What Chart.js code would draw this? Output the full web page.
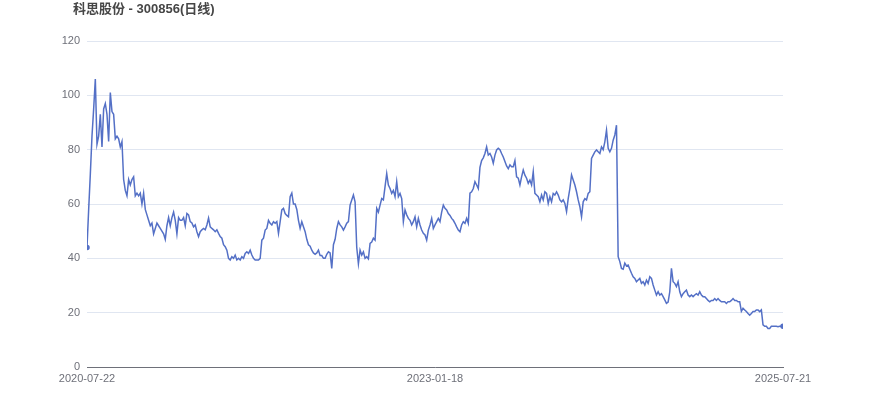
<!DOCTYPE html>
<html>
<head>
<meta charset="utf-8">
<script src="https://cdn.jsdelivr.net/npm/chart.js@4/dist/chart.umd.min.js"></script>
<style>
  html, body { margin: 0; padding: 0; background: #fff; }
  #wrap { width: 870px; height: 417px; position: relative; }
</style>
</head>
<body>
<div id="wrap"><canvas id="priceChart"></canvas></div>
<script>
const chartTitle = '科思股份 - 300856(日线)';
const tickLabels = ['2020-07-22', '2023-01-18', '2025-07-21'];
const yRange = [0, 120];
const yStep = 20;

// closing prices, roughly every third trading day
const closePrices = [
  44, 58, 71, 85, 95, 106, 82, 85, 93, 81, 95, 97, 93, 83, 101, 94, 93, 84, 85, 84,
  81, 83, 69, 65, 63, 69, 67, 69, 70, 63, 64, 63, 64, 60, 64, 58, 56, 54, 52, 53,
  49, 51, 53, 52, 51, 50, 49, 47, 52, 55, 52,
  55, 57, 54, 49, 55, 54, 54, 55, 52, 56.5, 56, 53.5, 53, 51.6, 52.3, 49.8, 48, 49.8, 50.5, 51,
  50.5, 52.3, 54.8, 51.6, 51, 50.5, 49.8, 50.5, 49.2, 48, 47.4, 45, 44.3, 43, 40, 39.4, 40.6, 40, 41.2, 39.4,
  40, 39.4, 40.6, 40, 41.8, 42.4, 41.8, 43, 41.2, 40, 39.4, 39.4, 39.4, 40,
  46.7, 47.4, 50.4, 51, 54, 52.9, 52.3, 53.5, 52.9, 53.5, 49.2, 53.5, 57.8, 58.4, 56.5, 55.8, 55.3, 62.7, 64, 60,
  60, 58, 54, 51, 53.5, 51.6, 49.8, 47, 45, 44.5, 43, 42, 41.5, 42, 43, 41, 41, 40, 40, 41.5,
  42.4, 42, 36.3, 45, 47, 51, 53.5, 52.3, 51.6, 50.4, 51.6,
  52.9, 53.5, 59.6, 61.5, 63.3, 60.8, 44, 38, 43, 41.2, 42.4, 40, 40.6, 39.8, 45.5, 46, 47.4, 46.7, 58.4, 57,
  59.6, 62, 61.5, 66.4, 71.2, 67, 65.7, 63.9, 65, 62.7, 68.2, 62.7, 63.9, 62, 53.5, 57.8, 56, 54.7, 54, 52.3,
  53.5, 55.3, 51.6, 54.7, 52.3, 50.4, 49.2, 48.6, 46.7, 50.4, 52.3,
  54.7, 51, 52.3, 53.5, 54.7, 53.5, 57, 59.6, 58.4, 57.8, 56.5, 55.8, 54.7, 54, 52.9, 51.6, 50.4, 49.8, 52.3, 53.5,
  52.9, 54.7, 52.9, 64, 64.5, 65.7, 68.2, 67, 65.7, 73.5, 76, 77, 78.6, 81, 78, 78.6, 77.3, 75, 78, 79.9,
  80.5, 80, 78.6, 77.3, 75.6, 74, 73, 74.4, 73.7, 73.7, 76,
  70, 69.5, 67, 70, 72.5, 70.6, 69.5, 67.6, 68.8, 67, 71.9, 63.9, 63.3, 62.7, 60.8, 63.3, 61.5, 64.5, 63.9, 60.2,
  62.7, 60.8, 63.9, 63.3, 64.5, 63.3, 61.5, 60.8, 61.5, 60.2, 57.2, 62, 65.7, 70.7, 68.8, 67, 64.5, 61.5, 59, 55.3,
  60.8, 62, 61.5, 63.9, 64.5, 76.8, 78, 79.2, 79.9, 79.2, 78.6,
  81, 80, 82.9, 87.2, 80.5, 79.2, 80.5, 83.5, 85.4, 89, 40.6, 38.8, 36.3, 36, 38.2, 37.2, 37.5, 36, 34.5, 33.2,
  32.6, 31.4, 32, 32.6, 30.8, 31.4, 30.2, 32, 30.8, 33.2, 32.6, 30.2, 28.3, 26.5, 27.7, 26.5, 27, 25.9, 24.7, 23.4,
  23.9, 27.7, 36.3, 31.4, 30.8, 29.6, 31.4,
  27.7, 25.9, 27, 27.7, 28.3, 26.5, 25.9, 26.5, 25.9, 26.5, 27, 26.5, 27.7, 26.5, 25.9, 25.9, 25.2, 24.5, 24, 24.5,
  24.5, 25.2, 24.5, 25.2, 24.5, 24, 24, 24, 23.4, 24, 24, 24.5, 25.2, 24.5, 24.5, 24, 24, 20.5, 21.6, 21,
  20.4, 19.7, 19.1, 19.7, 20.4, 20.4, 21, 21, 20.4, 21, 15.5, 15, 15, 14.2, 14.2, 15, 15, 15, 15, 14.8,
  15, 15, 15
];

const lastIdx = closePrices.length - 1;
const midIdx = Math.round(lastIdx / 2);
const tickIdx = [0, midIdx, lastIdx];

const fontFamily = '"Liberation Sans", "Noto Sans CJK SC", Arial, sans-serif';

const titlePlugin = {
  id: 'topTitle',
  afterDraw(chart) {
    const ctx = chart.ctx;
    ctx.save();
    ctx.font = 'bold 13px ' + fontFamily;
    ctx.fillStyle = '#464646';
    ctx.textBaseline = 'middle';
    ctx.textAlign = 'left';
    ctx.fillText(chartTitle, 73, 9);
    ctx.restore();
  }
};

new Chart(document.getElementById('priceChart'), {
  type: 'line',
  data: {
    datasets: [{
      data: closePrices.map((v, i) => ({ x: i, y: v })),
      borderColor: '#5470c6',
      backgroundColor: '#5470c6',
      borderWidth: 1.5,
      tension: 0,
      pointRadius: ctx => (ctx.dataIndex === 0 || ctx.dataIndex === lastIdx) ? 2 : 0,
      pointHoverRadius: 0,
      fill: false
    }]
  },
  options: {
    responsive: true,
    maintainAspectRatio: false,
    animation: false,
    layout: { padding: { left: 0, right: 87, top: 41, bottom: 0 } },
    plugins: {
      legend: { display: false },
      tooltip: { enabled: false },
      title: { display: false }
    },
    scales: {
      x: {
        type: 'linear',
        min: 0,
        max: lastIdx,
        afterFit: s => { s.height = 50; },
        afterBuildTicks: s => { s.ticks = tickIdx.map(v => ({ value: v })); },
        grid: { display: false, drawTicks: false },
        border: { display: true, color: '#6e7079', width: 1 },
        ticks: {
          autoSkip: false,
          maxRotation: 0,
          padding: 5,
          color: '#6e7079',
          font: { family: fontFamily, size: 11 },
          callback: v => tickLabels[tickIdx.indexOf(v)] ?? ''
        }
      },
      y: {
        min: yRange[0],
        max: yRange[1],
        afterFit: s => { s.width = 87; },
        grid: { color: '#e0e6f1', drawTicks: false },
        border: { display: false },
        ticks: {
          stepSize: yStep,
          padding: 7,
          color: '#6e7079',
          font: { family: fontFamily, size: 11 }
        }
      }
    }
  },
  plugins: [titlePlugin]
});
</script>
</body>
</html>
